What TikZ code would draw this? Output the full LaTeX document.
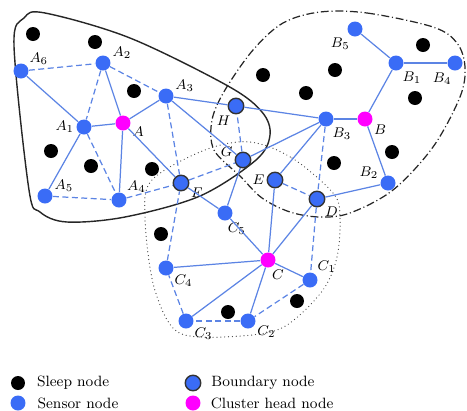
\documentclass[tikz,border=0pt]{standalone}
\usetikzlibrary{positioning}
\definecolor{sensorblue}{RGB}{58,108,246}
\definecolor{linkblue}{RGB}{92,132,228}
\definecolor{headpink}{RGB}{255,0,255}
\tikzset{
  sleepnode/.style={circle, fill=black, inner sep=0pt, minimum size=0.28cm},
  sensornode/.style={circle, fill=sensorblue, inner sep=0pt, minimum size=0.30cm},
  boundarynode/.style={circle, fill=sensorblue, draw=black!80, line width=0.8pt, inner sep=0pt, minimum size=0.31cm},
  headnode/.style={circle, fill=headpink, inner sep=0pt, minimum size=0.30cm},
  solidlink/.style={draw=linkblue, line width=0.7pt},
  dashlink/.style={draw=linkblue, line width=0.7pt, dash pattern=on 3.4pt off 2pt},
  lab/.style={font=\fontsize{8.5}{10}\selectfont, inner sep=1pt},
  every label/.style={lab},
  label distance=0pt
}
\begin{document}
\begin{tikzpicture}[x=0.02cm, y=-0.02cm]
\useasboundingbox (0,0) rectangle (467,410);
% cluster regions
\draw[black!85, line width=0.8pt] plot[smooth cycle, tension=0.55] coordinates {
  (45,13) (130,38) (228,86) (262,112) (270,135) (256,160) (200,196) (125,217)
  (67,222) (40,212) (29,190) (14,46) (24,18)};
\draw[black!85, line width=0.7pt, dash pattern=on 4.5pt off 1.6pt on 0.6pt off 1.6pt] plot[smooth cycle, tension=0.55] coordinates {
  (320,12) (367,13) (433,27) (457,43) (465,67) (460,97) (433,147) (393,190)
  (350,213) (320,217) (290,212) (262,198) (240,176) (214,150) (212,120)
  (225,90) (253,50) (283,23)};
\draw[black!75, line width=0.7pt, line cap=round, dash pattern=on 0pt off 2.2pt] plot[smooth cycle, tension=0.55] coordinates {
  (250,142) (292,158) (333,193) (340,217) (337,257) (323,290) (290,323)
  (260,334) (200,337) (172,327) (153,283) (145,217) (152,180) (205,150)};

% sleep nodes
\node at (33,34) [sleepnode] (s1) {};
\node at (95,42) [sleepnode] (s2) {};
\node at (134,91) [sleepnode] (s3) {};
\node at (51,151) [sleepnode] (s4) {};
\node at (91,166) [sleepnode] (s5) {};
\node at (152,169) [sleepnode] (s6) {};
\node at (263,75) [sleepnode] (s7) {};
\node at (335,70) [sleepnode] (s8) {};
\node at (306,93) [sleepnode] (s9) {};
\node at (423,45) [sleepnode] (s10) {};
\node at (415,98) [sleepnode] (s11) {};
\node at (392,152) [sleepnode] (s12) {};
\node at (334,163) [sleepnode] (s13) {};
\node at (161,234) [sleepnode] (s14) {};
\node at (297,301) [sleepnode] (s15) {};
\node at (228,312) [sleepnode] (s16) {};

% cluster A
\node at (123,123) [headnode, label=-15:$A$] (A) {};
\node at (84,127) [sensornode, label=180:$A_1$] (A1) {};
\node at (103,63) [sensornode, label=15:$A_2$] (A2) {};
\node at (166,96) [sensornode, label=20:$A_3$] (A3) {};
\node at (119,200) [sensornode, label=40:$A_4$] (A4) {};
\node at (45,196) [sensornode, label=15:$A_5$] (A5) {};
\node at (21,71) [sensornode, label=35:$A_6$] (A6) {};

% cluster B
\node at (365,119) [headnode, label=-25:$B$] (B) {};
\node at (396,63) [sensornode, label=-55:$B_1$] (B1) {};
\node at (388,183) [sensornode, label=165:$B_2$] (B2) {};
\node at (326,119) [sensornode, label=-55:$B_3$] (B3) {};
\node at (455,63) [sensornode, label=-100:$B_4$] (B4) {};
\node at (355,29) [sensornode, label=-115:$B_5$] (B5) {};

% cluster C
\node at (268,260) [headnode, label=-75:$C$] (C) {};
\node at (310,280) [sensornode, label=45:$C_1$] (C1) {};
\node at (248,321) [sensornode, label=-20:$C_2$] (C2) {};
\node at (186,321) [sensornode, label=-35:$C_3$] (C3) {};
\node at (166,268) [sensornode, label=-35:$C_4$] (C4) {};
\node at (225,213) [sensornode, label=-85:$C_5$] (C5) {};

% boundary nodes
\node at (181,183) [boundarynode, label=-17:$F$] (F) {};
\node at (243,160) [boundarynode, label=170:$G$] (G) {};
\node at (236,106) [boundarynode, label=-115:$H$] (H) {};
\node at (275,180) [boundarynode, label=180:$E$] (E) {};
\node at (317,199) [boundarynode, label=-45:$D$] (D) {};

% solid links
\draw[solidlink] (A6) -- (A1);
\draw[solidlink] (A1) -- (A);
\draw[solidlink] (A1) -- (A5);
\draw[solidlink] (A) -- (A2);
\draw[solidlink] (A) -- (A3);
\draw[solidlink] (A) -- (A4);
\draw[solidlink] (A) -- (F);
\draw[solidlink] (A3) -- (H);
\draw[solidlink] (A3) -- (G);
\draw[solidlink] (H) -- (B3);
\draw[solidlink] (G) -- (B3);
\draw[solidlink] (E) -- (B3);
\draw[solidlink] (B3) -- (B);
\draw[solidlink] (B) -- (B1);
\draw[solidlink] (B1) -- (B5);
\draw[solidlink] (B1) -- (B4);
\draw[solidlink] (B) -- (B2);
\draw[solidlink] (B2) -- (D);
\draw[solidlink] (F) -- (C5);
\draw[solidlink] (G) -- (C5);
\draw[solidlink] (C5) -- (C);
\draw[solidlink] (E) -- (C);
\draw[solidlink] (D) -- (C);
\draw[solidlink] (C4) -- (C);
\draw[solidlink] (C3) -- (C);
\draw[solidlink] (C2) -- (C);
\draw[solidlink] (C1) -- (C);

% dashed links
\draw[dashlink] (A6) -- (A2);
\draw[dashlink] (A2) -- (A3);
\draw[dashlink] (A2) -- (A1);
\draw[dashlink] (A1) -- (A4);
\draw[dashlink] (A5) -- (A4);
\draw[dashlink] (A4) -- (F);
\draw[dashlink] (A3) -- (F);
\draw[dashlink] (F) -- (G);
\draw[dashlink] (G) -- (H);
\draw[dashlink] (E) -- (D);
\draw[dashlink] (B3) -- (D);
\draw[dashlink] (D) -- (C1);
\draw[dashlink] (C1) -- (C2);
\draw[dashlink] (C2) -- (C3);
\draw[dashlink] (C3) -- (C4);
\draw[dashlink] (C4) -- (F);

% legend
\node at (18,383) [sleepnode] (legsleep) {};
\node[right=5.5pt of legsleep, lab] (legsleeptext) {Sleep node};
\node at (18,403) [sensornode] (legsensor) {};
\node[right=5.5pt of legsensor, lab] (legsensortext) {Sensor node};
\node at (193,383) [boundarynode] (legboundary) {};
\node[right=4.5pt of legboundary, lab] (legboundarytext) {Boundary node};
\node at (193,403) [headnode] (leghead) {};
\node[right=4.5pt of leghead, lab] (legheadtext) {Cluster head node};
\end{tikzpicture}
\end{document}
